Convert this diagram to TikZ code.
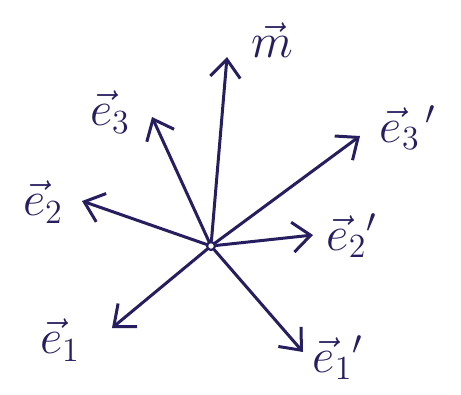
\documentclass[tikz,border=0pt]{standalone}
\usetikzlibrary{arrows.meta}
\definecolor{ink}{RGB}{38,30,95}
\begin{document}
\begin{tikzpicture}[x=1pt,y=-1pt,
  vec/.style={draw=ink,line width=3pt,line cap=round,-{Straight Barb[length=18pt,width=30pt,line width=3pt]}},
  lab/.style={text=ink,font=\fontsize{20.74}{24}\selectfont,inner sep=0pt,scale=2.35},
  dot/.style={circle,draw=ink,line width=2.2pt,minimum size=8pt,inner sep=0pt}]
\useasboundingbox (0,0) rectangle (461,394);
\node[dot] (o) at (211,246) {};
\coordinate (m) at (227,57);
\coordinate (e3) at (152,117);
\coordinate (e3p) at (360,136);
\coordinate (e2) at (82,201);
\coordinate (e2p) at (313,235);
\coordinate (e1) at (112,328);
\coordinate (e1p) at (303,352);
\draw[vec] (o) -- (m);
\draw[vec] (o) -- (e3);
\draw[vec] (o) -- (e3p);
\draw[vec] (o) -- (e2);
\draw[vec] (o) -- (e2p);
\draw[vec] (o) -- (e1);
\draw[vec] (o) -- (e1p);
\node[lab] (lm) at (272,40) {$\vec{m}$};
\node[lab] (le3) at (110,112) {$\vec{e}_3$};
\node[lab] (le3p) at (408,128) {$\vec{e}_3{}^{\,\prime}$};
\node[lab] (le2) at (43,202) {$\vec{e}_2$};
\node[lab] (le2p) at (352,236) {$\vec{e}_2{}'$};
\node[lab] (le1) at (60,340) {$\vec{e}_1$};
\node[lab] (le1p) at (338,358) {$\vec{e}_1{}'$};
\end{tikzpicture}
\end{document}
